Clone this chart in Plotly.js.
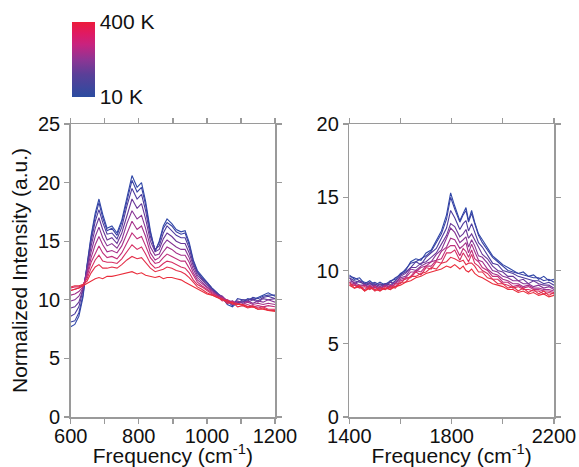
<!DOCTYPE html>
<html>
<head>
<meta charset="utf-8">
<script src="https://cdn.plot.ly/plotly-3.0.1.min.js"></script>
<style>html,body{margin:0;padding:0;background:#fff;}#chart{width:579px;height:467px;}</style>
</head>
<body>
<div id="chart"></div>
<script>
// ---------- DATA ----------
const TEMPS = [10, 50, 90, 130, 170, 210, 250, 300, 350, 400];

const L_FREQ = [600,612,624,636,648,660,672,683,694,707,721,736,750,765,780,795,808,820,834,848,860,872,883,897,910,924,936,948,960,972,985,1000,1015,1030,1045,1060,1075,1090,1105,1120,1135,1150,1165,1180,1200];

const L_10K  = [7.7,7.9,8.6,10.2,13.0,15.5,17.4,18.6,17.3,16.1,16.3,15.7,16.8,18.8,20.6,19.6,20.0,18.4,15.9,14.1,15.0,16.3,16.9,16.5,16.0,15.8,15.9,14.9,13.4,12.5,12.0,11.5,11.0,10.6,10.2,9.6,9.4,9.8,9.8,10.1,10.0,10.2,10.4,10.6,10.3];
const L_50K  = [8.1,8.2,8.9,10.4,12.9,15.3,17.1,18.3,17.0,15.9,16.1,15.5,16.6,18.5,20.2,19.2,19.6,18.1,15.7,14.2,14.9,16.1,16.6,16.3,15.8,15.6,15.7,14.7,13.3,12.4,11.9,11.5,11.0,10.6,10.0,9.9,9.5,10.1,10.0,9.9,10.2,10.1,10.3,10.4,10.4];
const L_90K  = [8.6,8.8,9.4,10.8,12.8,15.0,16.7,17.7,16.6,15.6,15.7,15.2,16.2,18.0,19.5,18.6,19.0,17.6,15.4,14.3,14.6,15.7,16.3,15.9,15.5,15.3,15.3,14.4,13.1,12.3,11.8,11.4,10.9,10.5,10.3,9.8,9.8,9.7,10.0,10.0,10.1,9.9,10.2,10.3,10.1];
const L_130K = [9.3,9.4,9.8,10.9,12.6,14.6,16.1,17.0,16.0,15.1,15.3,14.8,15.7,17.2,18.6,17.8,18.2,16.9,15.0,14.1,14.3,15.2,15.7,15.4,15.0,14.8,14.8,14.0,12.9,12.1,11.7,11.3,10.8,10.5,10.1,9.7,9.9,9.6,9.9,9.8,10.0,9.8,10.1,10.0,10.1];
const L_170K = [9.9,10.0,10.3,11.0,12.4,14.1,15.4,16.2,15.3,14.6,14.8,14.4,15.1,16.5,17.6,16.9,17.2,16.1,14.5,13.8,13.9,14.7,15.1,14.8,14.5,14.3,14.3,13.6,12.6,11.9,11.5,11.1,10.8,10.4,10.3,9.9,9.6,9.9,9.7,9.9,9.7,9.9,9.8,10.0,9.8];
const L_210K = [10.4,10.5,10.7,11.1,12.2,13.6,14.7,15.4,14.7,14.1,14.2,14.0,14.6,15.7,16.7,16.0,16.3,15.4,14.0,13.4,13.6,14.1,14.5,14.3,14.0,13.8,13.8,13.2,12.3,11.7,11.4,11.0,10.7,10.4,10.1,10.0,9.8,9.6,9.6,9.8,9.6,9.7,9.6,9.7,9.6];
const L_250K = [10.8,10.9,11.0,11.2,12.0,13.2,14.0,14.6,14.0,13.6,13.7,13.5,14.0,14.9,15.7,15.2,15.4,14.6,13.6,13.1,13.2,13.6,13.9,13.7,13.5,13.3,13.3,12.7,12.0,11.5,11.2,10.9,10.6,10.3,10.2,9.8,9.9,9.7,9.5,9.6,9.4,9.5,9.4,9.5,9.4];
const L_300K = [11.0,11.1,11.1,11.3,11.8,12.7,13.4,13.8,13.3,13.2,13.2,13.1,13.5,14.1,14.7,14.3,14.5,13.9,13.1,12.7,12.8,13.1,13.3,13.2,13.0,12.8,12.7,12.3,11.7,11.3,11.1,10.8,10.5,10.3,9.9,10.0,9.6,9.7,9.6,9.4,9.5,9.3,9.4,9.2,9.2];
const L_350K = [11.1,11.2,11.2,11.3,11.6,12.3,12.8,13.0,12.7,12.7,12.8,12.7,13.0,13.4,13.7,13.5,13.6,13.2,12.7,12.4,12.5,12.6,12.8,12.7,12.5,12.4,12.2,11.9,11.5,11.1,10.9,10.6,10.4,10.2,10.1,9.7,9.8,9.4,9.5,9.3,9.4,9.2,9.3,9.1,9.1];
const L_400K = [10.8,10.9,11.0,11.2,11.4,11.6,11.8,11.9,11.8,12.0,12.0,12.1,12.2,12.3,12.4,12.2,12.3,12.1,12.0,11.9,12.0,11.8,11.9,11.9,11.8,11.7,11.5,11.3,11.1,10.9,10.7,10.5,10.4,10.2,10.0,9.9,9.7,9.6,9.6,9.4,9.4,9.2,9.2,9.1,9.0];

const R_FREQ = [1400,1420,1440,1460,1480,1500,1520,1540,1560,1580,1600,1620,1640,1660,1680,1700,1720,1740,1760,1780,1796,1812,1832,1845,1856,1866,1878,1890,1905,1920,1940,1960,1980,2000,2020,2040,2060,2080,2100,2120,2140,2160,2180,2200];

const R_10K  = [9.7,9.4,9.5,9.1,9.3,9.0,9.2,9.0,9.3,9.4,9.8,10.0,10.6,10.8,10.7,11.2,11.4,12.0,12.7,13.8,15.3,14.4,13.4,13.9,14.3,13.4,14.1,13.3,12.5,12.1,11.5,11.0,10.7,10.4,10.2,10.0,9.8,9.9,9.6,9.7,9.4,9.6,9.3,9.4];
const R_50K  = [9.6,9.5,9.3,9.2,9.1,9.2,9.0,9.1,9.2,9.5,9.7,10.1,10.5,10.6,10.8,11.0,11.3,11.9,12.5,13.5,15.0,14.2,13.3,13.8,14.1,13.3,13.9,13.2,12.4,11.9,11.4,10.9,10.6,10.3,10.0,9.9,9.8,9.7,9.6,9.5,9.5,9.3,9.4,9.2];
const R_90K  = [9.5,9.3,9.2,9.1,9.0,9.1,8.9,9.1,9.0,9.3,9.7,9.9,10.2,10.6,10.4,10.9,11.2,11.5,12.2,12.9,14.1,13.6,12.8,13.2,13.4,12.7,13.2,12.6,11.9,11.6,11.0,10.5,10.4,10.0,9.9,9.8,9.6,9.5,9.4,9.3,9.3,9.1,9.2,9.0];
const R_130K = [9.5,9.1,9.3,9.0,9.2,8.8,9.1,8.9,9.2,9.1,9.6,9.8,10.2,10.2,10.5,10.6,10.9,11.2,11.8,12.4,13.2,13.0,12.3,12.5,12.8,12.2,12.5,12.1,11.5,11.1,10.8,10.3,10.0,9.9,9.6,9.6,9.3,9.4,9.1,9.3,9.1,9.0,9.0,8.8];
const R_170K = [9.3,9.2,9.0,9.0,8.9,9.0,8.8,9.0,8.9,9.2,9.5,9.6,10.1,10.0,10.3,10.5,10.6,11.1,11.4,12.2,12.9,12.6,11.9,12.1,12.3,11.6,12.1,11.7,11.0,10.9,10.5,10.0,9.9,9.6,9.5,9.3,9.3,9.1,9.1,8.9,9.0,8.8,8.9,8.7];
const R_210K = [9.2,9.1,8.9,9.0,8.8,8.9,8.7,9.0,8.8,9.1,9.4,9.5,9.9,9.9,10.2,10.3,10.6,10.7,11.3,11.6,12.2,12.1,11.5,11.7,11.9,11.2,11.8,11.3,10.7,10.6,10.1,9.8,9.7,9.4,9.3,9.1,9.1,8.9,9.0,8.8,8.8,8.7,8.7,8.6];
const R_250K = [9.1,9.0,8.9,8.7,9.0,8.7,8.9,8.7,9.0,8.9,9.3,9.4,9.6,10.0,9.9,10.3,10.3,10.7,10.8,11.5,11.7,11.7,11.0,11.5,11.3,10.9,11.4,10.8,10.6,10.2,10.0,9.6,9.6,9.2,9.2,8.9,9.0,8.8,8.9,8.7,8.7,8.6,8.6,8.5];
const R_300K = [9.0,9.0,8.8,8.9,8.7,8.9,8.6,8.9,8.7,9.1,9.1,9.5,9.5,9.9,9.7,10.2,10.1,10.6,10.5,11.2,11.2,11.4,10.7,11.2,10.9,10.6,11.1,10.5,10.3,10.0,9.8,9.4,9.4,9.1,9.0,8.8,8.9,8.7,8.7,8.6,8.6,8.4,8.5,8.4];
const R_350K = [9.2,8.8,9.0,8.6,8.9,8.6,8.8,8.7,8.9,8.8,9.2,9.2,9.6,9.6,9.8,9.9,10.2,10.1,10.5,10.6,10.9,10.8,10.6,10.7,10.4,10.5,10.5,10.3,9.9,9.9,9.5,9.4,9.1,9.1,8.8,8.9,8.6,8.8,8.5,8.7,8.4,8.6,8.3,8.5];
const R_400K = [9.0,8.8,8.9,8.6,8.8,8.7,8.6,8.8,8.7,8.9,9.0,9.2,9.3,9.5,9.6,9.8,9.9,10.0,10.1,10.3,10.2,10.4,10.1,10.3,10.0,9.9,10.1,9.8,9.6,9.5,9.3,9.1,9.0,8.9,8.7,8.7,8.5,8.6,8.4,8.5,8.3,8.4,8.2,8.3];

const LEFT_SERIES  = [L_10K, L_50K, L_90K, L_130K, L_170K, L_210K, L_250K, L_300K, L_350K, L_400K];
const RIGHT_SERIES = [R_10K, R_50K, R_90K, R_130K, R_170K, R_210K, R_250K, R_300K, R_350K, R_400K];

const L_TICKS = [600,700,800,900,1000,1100,1200];
const L_TICKTEXT = ['600','','800','','1000','','1200'];
const R_TICKS = [1400,1600,1800,2000,2200];
const R_TICKTEXT = ['1400','','1800','','2200'];
const CB_TICKS = [10, 400];
const CB_TICKTEXT = ['10 K', '400 K'];

// ---------- STYLE ----------
const COLORSCALE = [
  [0.0, 'rgb(43,76,160)'],
  [0.3, 'rgb(90,63,152)'],
  [0.5, 'rgb(142,53,148)'],
  [0.7, 'rgb(200,35,127)'],
  [0.85,'rgb(224,26,98)'],
  [1.0, 'rgb(236,27,59)']
];
// line colours, coldest to hottest
const LINE_COLORS = ['rgb(48,72,168)','rgb(58,66,164)','rgb(78,60,158)','rgb(105,56,152)',
  'rgb(135,52,148)','rgb(165,48,138)','rgb(192,46,122)','rgb(214,46,98)','rgb(228,48,74)','rgb(234,44,58)'];
const FONT = 'Liberation Sans, Arial, sans-serif';
const FS = 21;
const TFS = 20;
const AX = '#9a9a9a';
const TMIN = TEMPS[0], TMAX = TEMPS[TEMPS.length-1];

const traces = [];
TEMPS.forEach((T, k) => {
  const c = LINE_COLORS[k];
  traces.push({x: L_FREQ, y: LEFT_SERIES[k], type:'scatter', mode:'lines',
    line:{color:c, width:1.1}, xaxis:'x', yaxis:'y', hoverinfo:'skip', showlegend:false});
  traces.push({x: R_FREQ, y: RIGHT_SERIES[k], type:'scatter', mode:'lines',
    line:{color:c, width:1.1}, xaxis:'x2', yaxis:'y2', hoverinfo:'skip', showlegend:false});
});

// colour bar carrier (point lies outside the visible range)
traces.push({x:[900], y:[-5], type:'scatter', mode:'markers', xaxis:'x', yaxis:'y',
  hoverinfo:'skip', showlegend:false,
  marker:{color:[TMIN], cmin:TMIN, cmax:TMAX, colorscale:COLORSCALE, showscale:true, size:1,
    colorbar:{x:72/579, xanchor:'left', xpad:0, y:1-22/467, yanchor:'top', ypad:0,
      len:75, lenmode:'pixels', thickness:23, thicknessmode:'pixels', outlinewidth:0,
      tickvals:CB_TICKS, ticktext:CB_TICKTEXT, ticks:'', ticklen:0,
      tickfont:{family:FONT, size:FS, color:'#111'}}}});

const axBase = {showgrid:false, zeroline:false, ticks:'outside', ticklen:5, tickwidth:1.3,
  tickcolor:AX, linecolor:AX, linewidth:1.5, mirror:'ticks', showline:true,
  tickfont:{family:FONT, size:TFS, color:'#111'}};

const layout = {
  width:579, height:467, margin:{l:0,r:0,t:0,b:0},
  paper_bgcolor:'#fff', plot_bgcolor:'#fff', showlegend:false,
  font:{family:FONT, size:FS, color:'#111'},
  xaxis:Object.assign({}, axBase, {domain:[70.7/579, 275/579], range:[600,1200], anchor:'y',
    tickmode:'array', tickvals:L_TICKS, ticktext:L_TICKTEXT, ticklabelstandoff:-5,
    title:{text:'Frequency (cm<sup>-1</sup>)', font:{family:FONT, size:FS, color:'#111'}, standoff:2}}),
  yaxis:Object.assign({}, axBase, {domain:[1-417/467, 1-124/467], range:[0,25], anchor:'x',
    tickmode:'linear', tick0:0, dtick:5,
    title:{text:'Normalized Intensity (a.u.)', font:{family:FONT, size:FS, color:'#111'}, standoff:4}}),
  xaxis2:Object.assign({}, axBase, {domain:[349.3/579, 554/579], range:[1400,2200], anchor:'y2',
    tickmode:'array', tickvals:R_TICKS, ticktext:R_TICKTEXT, ticklabelstandoff:-5,
    title:{text:'Frequency (cm<sup>-1</sup>)', font:{family:FONT, size:FS, color:'#111'}, standoff:2}}),
  yaxis2:Object.assign({}, axBase, {domain:[1-417/467, 1-124/467], range:[0,20], anchor:'x2',
    tickmode:'linear', tick0:0, dtick:5})
};

Plotly.newPlot('chart', traces, layout, {staticPlot:true, displayModeBar:false});
</script>
</body>
</html>
